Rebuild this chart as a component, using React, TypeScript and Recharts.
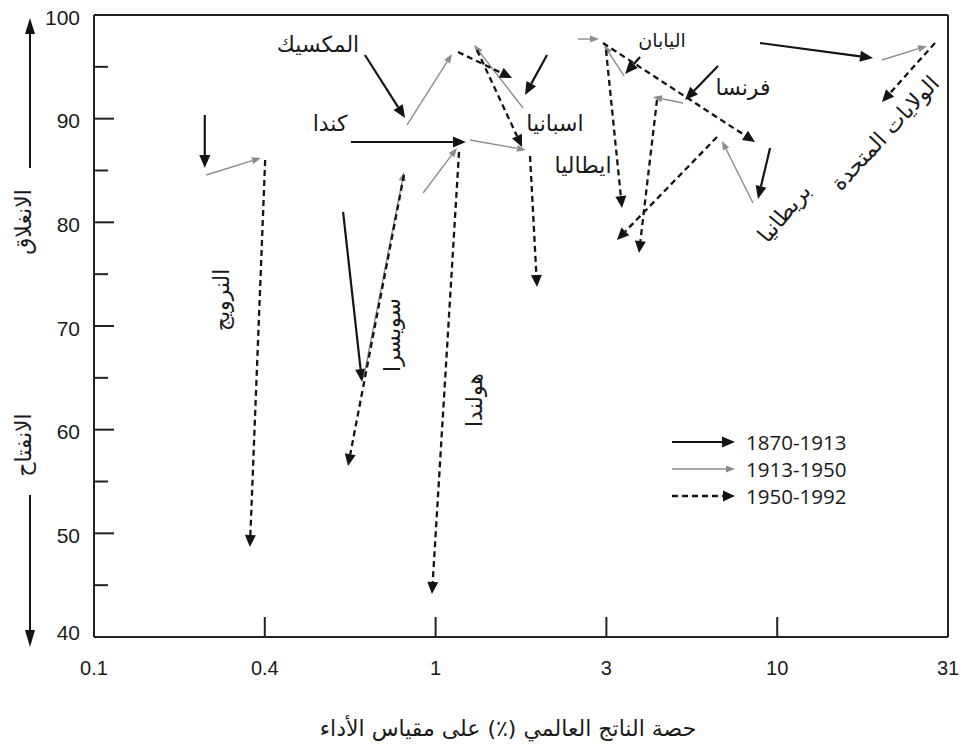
import React from "react";
import { ScatterChart, Scatter, XAxis, YAxis, ReferenceLine } from "recharts";

// log axis: share of world GDP (%), ticks are half decades
const xTicks = [0.1, 0.3162, 1, 3.162, 10, 31.62];
const xTickLabels = ["0.1", "0.4", "1", "3", "10", "31"];
const yTicks = [40, 45, 50, 55, 60, 65, 70, 75, 80, 85, 90, 95, 100];

const periods = ["1870-1913", "1913-1950", "1950-1992"];

// [country, x start, y start, x end, y end]
const arrows1870: [string, number, number, number, number][] = [
  ["النرويج", 0.211, 90.35, 0.211, 85.24],
  ["المكسيك", 0.621, 96.14, 0.814, 90.06],
  ["كندا", 0.565, 87.75, 1.227, 87.75],
  ["سويسرا", 0.536, 81.0, 0.609, 64.6],
  ["اسبانيا", 2.119, 96.14, 1.827, 92.28],
  ["ايطاليا", 3.967, 95.95, 3.585, 94.31],
  ["فرنسا", 6.708, 95.08, 5.372, 91.8],
  ["بريطانيا", 9.53, 87.17, 8.785, 82.25],
  ["الولايات المتحدة", 8.906, 97.3, 19.08, 95.85],
];

const arrows1913: [string, number, number, number, number][] = [
  ["النرويج", 0.213, 84.57, 0.308, 86.21],
  ["المكسيك", 0.825, 89.39, 1.117, 96.24],
  ["كندا", 1.261, 87.94, 1.839, 86.98],
  ["هولندا", 0.919, 82.83, 1.155, 87.17],
  ["سويسرا", 0.617, 65.18, 0.808, 84.86],
  ["اسبانيا", 1.803, 91.03, 1.296, 97.11],
  ["ايطاليا", 3.561, 94.12, 3.112, 97.11],
  ["اليابان", 2.612, 97.68, 3.008, 97.68],
  ["فرنسا", 5.299, 91.51, 4.329, 92.09],
  ["بريطانيا", 8.495, 81.87, 6.893, 87.85],
  ["الولايات المتحدة", 20.27, 95.66, 27.45, 97.01],
];

const arrows1950: [string, number, number, number, number][] = [
  ["النرويج", 0.317, 86.01, 0.286, 48.68],
  ["المكسيك", 1.163, 96.43, 1.674, 93.92],
  ["كندا", 1.89, 86.4, 1.981, 73.76],
  ["هولندا", 1.171, 86.79, 0.976, 44.15],
  ["سويسرا", 0.808, 84.57, 0.554, 56.5],
  ["اسبانيا", 1.322, 96.62, 1.791, 87.27],
  ["ايطاليا", 3.154, 96.62, 3.513, 81.38],
  ["اليابان", 3.09, 97.3, 8.61, 87.75],
  ["فرنسا", 4.447, 91.8, 3.939, 77.04],
  ["بريطانيا", 6.663, 88.23, 3.396, 78.3],
  ["الولايات المتحدة", 28.96, 97.3, 20.27, 91.61],
];

const countryLabels = [
  { name: "المكسيك", x: 0.4526, y: 97.11, angle: 0 },
  { name: "كندا", x: 0.4908, y: 89.58, angle: 0 },
  { name: "النرويج", x: 0.2369, y: 72.51, angle: -90 },
  { name: "سويسرا", x: 0.7454, y: 69.13, angle: -90 },
  { name: "هولندا", x: 1.296, y: 62.86, angle: -90 },
  { name: "اسبانيا", x: 2.236, y: 89.58, angle: 0 },
  { name: "ايطاليا", x: 2.701, y: 85.53, angle: 0 },
  { name: "اليابان", x: 4.6, y: 97.59, angle: 0 },
  { name: "فرنسا", x: 7.94, y: 92.96, angle: 0 },
  { name: "بريطانيا", x: 10.47, y: 80.9, angle: -50 },
  { name: "الولايات المتحدة", x: 20.69, y: 88.62, angle: -47 },
];

const BLACK = "#141414";
const GRAY = "#8c8c8c";
const AXIS = "#222";
const NUM_FONT = "'Liberation Sans', Arial, sans-serif";
const AR_FONT = "'DejaVu Sans', sans-serif";

const styles = [
  { stroke: BLACK, width: 2.2, dash: undefined, head: 13, half: 5.5 },
  { stroke: GRAY, width: 1.4, dash: undefined, head: 9, half: 3.5 },
  { stroke: BLACK, width: 2.3, dash: "6 4", head: 12, half: 5.5 },
];

function arrowShape(s: (typeof styles)[number]) {
  return (p: any) => {
    const { x1, y1, x2, y2 } = p;
    const dx = x2 - x1;
    const dy = y2 - y1;
    const len = Math.hypot(dx, dy) || 1;
    const ux = dx / len;
    const uy = dy / len;
    const bx = x2 - ux * s.head;
    const by = y2 - uy * s.head;
    const nx = -uy * s.half;
    const ny = ux * s.half;
    return (
      <g>
        <line x1={x1} y1={y1} x2={bx} y2={by} stroke={s.stroke} strokeWidth={s.width} strokeDasharray={s.dash} />
        <polygon points={`${x2},${y2} ${bx + nx},${by + ny} ${bx - nx},${by - ny}`} fill={s.stroke} />
      </g>
    );
  };
}

const Y_MARGIN = 14;
const X_MARGIN = 10;

const YTick = (props: any) => {
  const { x, y, payload } = props;
  const v = payload.value;
  const major = v % 10 === 0;
  const ax = x + Y_MARGIN;
  return (
    <g>
      {v !== 40 && v !== 100 && (
        <line x1={ax} y1={y} x2={ax + (major ? 20 : 14)} y2={y} stroke={AXIS} strokeWidth={2} />
      )}
      {major && (
        <text x={x} y={y + (v === 40 ? -5 : 2)} textAnchor="end" dominantBaseline="central" fontFamily={NUM_FONT} fontSize={21} fill="#1a1a1a">
          {v}
        </text>
      )}
    </g>
  );
};

const XTick = (props: any) => {
  const { x, y, index } = props;
  const ay = y - X_MARGIN;
  return (
    <g>
      {index > 0 && index < xTicks.length - 1 && (
        <line x1={x} y1={ay} x2={x} y2={ay - 20} stroke={AXIS} strokeWidth={2} />
      )}
      <text x={x} y={ay + 31} textAnchor="middle" dominantBaseline="central" fontFamily={NUM_FONT} fontSize={20} fill="#1a1a1a">
        {xTickLabels[index]}
      </text>
    </g>
  );
};

const CountryLabel = (props: any) => {
  const { cx, cy, payload } = props;
  return (
    <text
      x={cx}
      y={cy}
      textAnchor="middle"
      dominantBaseline="central"
      fontFamily={AR_FONT}
      fontSize={payload.name === "اليابان" ? 19 : 22}
      fill="#1a1a1a"
      transform={payload.angle ? `rotate(${payload.angle} ${cx} ${cy})` : undefined}
    >
      {payload.name}
    </text>
  );
};

function Legend() {
  const rows = periods.map((p, i) => ({ label: p, s: styles[i], y: 442 + i * 27 }));
  return (
    <g>
      {rows.map((r) => (
        <g key={r.label}>
          {arrowShape(r.s)({ x1: 672, y1: r.y, x2: 735, y2: r.y })}
          <text x={746} y={r.y} dominantBaseline="central" fontFamily="'Open Sans', sans-serif" fontSize={20.5} fill="#1a1a1a">
            {r.label}
          </text>
        </g>
      ))}
    </g>
  );
}

export default function App() {
  const groups = [arrows1870, arrows1913, arrows1950];
  return (
    <div style={{ position: "fixed", left: 0, top: 0, width: 964, height: 753, background: "#fff" }}>
      <ScatterChart width={964} height={753} margin={{ top: 15, right: 16, bottom: 0, left: 0 }}>
        <XAxis
          type="number"
          dataKey="x"
          scale="log"
          domain={[0.1, 31.62]}
          allowDataOverflow
          ticks={xTicks}
          interval={0}
          tick={<XTick />}
          tickLine={false}
          tickSize={0}
          tickMargin={X_MARGIN}
          axisLine={{ stroke: AXIS, strokeWidth: 2 }}
          height={116}
        />
        <YAxis
          type="number"
          dataKey="y"
          domain={[40, 100]}
          allowDataOverflow
          ticks={yTicks}
          interval={0}
          tick={<YTick />}
          tickLine={false}
          tickSize={0}
          tickMargin={Y_MARGIN}
          axisLine={{ stroke: AXIS, strokeWidth: 2 }}
          width={94}
        />
        <ReferenceLine y={100} stroke={AXIS} strokeWidth={2} ifOverflow="visible" />
        <ReferenceLine x={31.62} stroke={AXIS} strokeWidth={2} ifOverflow="visible" />
        {groups.map((g, gi) =>
          g.map(([c, x1, y1, x2, y2]) => (
            <ReferenceLine
              key={`${gi}-${c}`}
              segment={[{ x: x1, y: y1 }, { x: x2, y: y2 }]}
              ifOverflow="visible"
              shape={arrowShape(styles[gi])}
            />
          ))
        )}
        <Scatter data={countryLabels} shape={<CountryLabel />} isAnimationActive={false} />
      </ScatterChart>
      <svg width={964} height={753} style={{ position: "absolute", left: 0, top: 0, pointerEvents: "none" }}>
        <Legend />
        {/* y axis direction labels */}
        <line x1={30} y1={168} x2={30} y2={32} stroke={BLACK} strokeWidth={2} />
        <polygon points="30,18 25,34 35,34" fill={BLACK} />
        <text x={23} y={222} textAnchor="middle" dominantBaseline="central" fontFamily={AR_FONT} fontSize={22} fill="#1a1a1a" transform="rotate(-90 23 222)">
          الانغلاق
        </text>
        <text x={23} y={445} textAnchor="middle" dominantBaseline="central" fontFamily={AR_FONT} fontSize={22} fill="#1a1a1a" transform="rotate(-90 23 445)">
          الانفتاح
        </text>
        <line x1={30} y1={495} x2={30} y2={632} stroke={BLACK} strokeWidth={2} />
        <polygon points="30,647 25,630 35,630" fill={BLACK} />
        <text x={508} y={728} textAnchor="middle" dominantBaseline="central" fontFamily={AR_FONT} fontSize={22} fill="#1a1a1a">
          حصة الناتج العالمي (٪) على مقياس الأداء
        </text>
      </svg>
    </div>
  );
}
